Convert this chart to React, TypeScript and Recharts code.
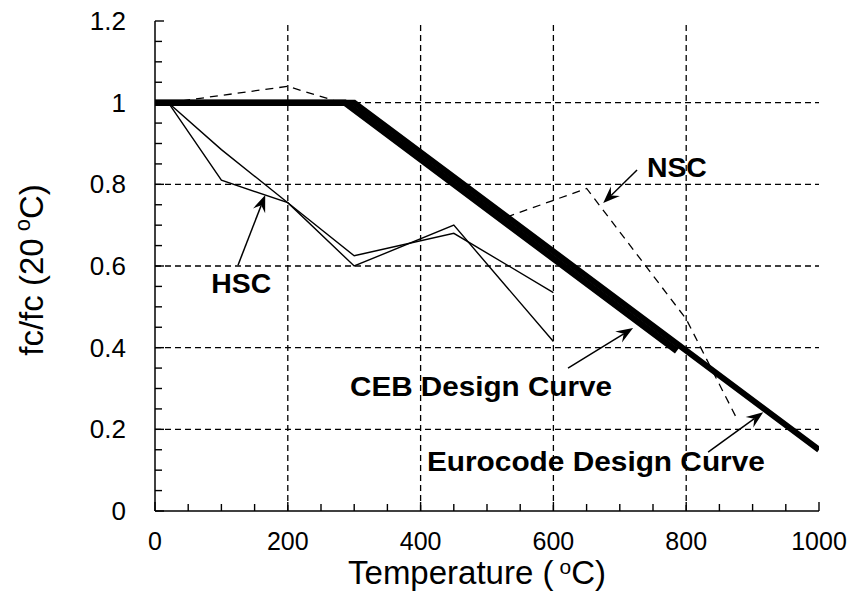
import React from "react"
import { LineChart, Line, XAxis, YAxis, ReferenceLine, ReferenceDot } from "recharts"

const FONT = '"Liberation Sans", Arial, Helvetica, sans-serif'

// HSC test results (two series)
const hscTemp = [20, 100, 200, 300, 450, 600]
const hscA = [1, 0.81, 0.755, 0.6, 0.7, 0.415]
const hscB = [1, 0.885, 0.755, 0.625, 0.68, 0.535]

// NSC test results
const nscTemp = [20, 200, 300, 530, 650, 800, 875]
const nscVal = [1, 1.04, 0.99, 0.72, 0.79, 0.47, 0.23]

// design curves
const cebTemp = [0, 286, 786]
const cebVal = [1, 1, 0.392]
const euroTemp = [0, 300, 1000]
const euroVal = [1, 1, 0.15]

// axes
const xTicks = [0, 50, 100, 150, 200, 250, 300, 350, 400, 450, 500, 550, 600, 650, 700, 750, 800, 850, 900, 950, 1000]
const yTicks = [0, 0.05, 0.1, 0.15, 0.2, 0.25, 0.3, 0.35, 0.4, 0.45, 0.5, 0.55, 0.6, 0.65, 0.7, 0.75, 0.8, 0.85, 0.9, 0.95, 1, 1.05, 1.1, 1.15, 1.2]
const xMajor = [0, 200, 400, 600, 800, 1000]
const yMajor = [0, 0.2, 0.4, 0.6, 0.8, 1, 1.2]
const xGrid = [200, 400, 600, 800]
const yGrid = [0.2, 0.4, 0.6, 0.8, 1]

// annotations: label centre, arrow tail -> arrow tip (data units)
const noteText = ["NSC", "HSC", "CEB Design Curve", "Eurocode Design Curve"]
const noteAt = [[786, 0.841], [130, 0.557], [491, 0.306], [664, 0.122]]
const arrowFrom = [[726, 0.835], [125, 0.602], [622, 0.35], [833, 0.144]]
const arrowTo = [[675, 0.754], [166, 0.774], [720, 0.448], [916, 0.242]]
const noteWidth = [60, 60, 262, 338]

const pts = (t: number[], v: number[]) => t.map((x, i) => ({ t: x, v: v[i] }))

const isMajor = (v: number, list: number[]) => list.some(m => Math.abs(m - v) < 1e-6)
const fmtY = (v: number) => (Math.abs(v) < 1e-6 ? "0" : Math.abs(v - 1) < 1e-6 ? "1" : v.toFixed(1))

const LeftTick = ({ x, y, payload }: any) => {
  const major = isMajor(payload.value, yMajor)
  return (
    <g>
      <line x1={x} y1={y} x2={x + (major ? 9 : 7)} y2={y} stroke="#000" strokeWidth={1.4} />
      {major && (
        <text x={x - 29} y={y + 9} textAnchor="end" fontSize={26} fontFamily={FONT} fill="#000">
          {fmtY(payload.value)}
        </text>
      )}
    </g>
  )
}

const RightTick = ({ x, y, payload }: any) => {
  const major = isMajor(payload.value, yMajor)
  return <line x1={x} y1={y} x2={x - (major ? 9 : 7)} y2={y} stroke="#000" strokeWidth={1.4} />
}

const BottomTick = ({ x, y, payload }: any) => {
  const major = isMajor(payload.value, xMajor)
  return (
    <g>
      <line x1={x} y1={y} x2={x} y2={y - (major ? 9 : 7)} stroke="#000" strokeWidth={1.4} />
      {major && (
        <text x={x} y={y + 39} textAnchor="middle" fontSize={25} fontFamily={FONT} fill="#000">
          {String(payload.value)}
        </text>
      )}
    </g>
  )
}

const TopTick = ({ x, y, payload }: any) => {
  const major = isMajor(payload.value, xMajor)
  return <line x1={x} y1={y} x2={x} y2={y + (major ? 9 : 7)} stroke="#000" strokeWidth={1.4} />
}

const XTitle = ({ viewBox }: any) => {
  const cx = viewBox.x + viewBox.width / 2 - 10
  return (
    <text x={cx} y={viewBox.y + 73} textAnchor="middle" fontSize={33} fontFamily={FONT} fill="#000">
      Temperature (
      <tspan dx={6} dy={-10} fontSize={21}>o</tspan>
      <tspan dy={10}>C)</tspan>
    </text>
  )
}

const YTitle = ({ viewBox }: any) => {
  const cy = viewBox.y + viewBox.height / 2 + 4
  return (
    <text x={43} y={cy} transform={`rotate(-90, 43, ${cy})`} textAnchor="middle" fontSize={33} fontFamily={FONT} fill="#000">
      fc/fc (20
      <tspan dx={7} dy={-13} fontSize={22}>o</tspan>
      <tspan dy={13}>C)</tspan>
    </text>
  )
}

const Arrow = (p: any) => {
  const { x1, y1, x2, y2 } = p
  const a = Math.atan2(y2 - y1, x2 - x1)
  const c = Math.cos(a)
  const s = Math.sin(a)
  const L = 17
  const W = 6.5
  const N = 11
  const lx = x2 - L * c - W * s
  const ly = y2 - L * s + W * c
  const rx = x2 - L * c + W * s
  const ry = y2 - L * s - W * c
  const nx = x2 - N * c
  const ny = y2 - N * s
  return (
    <g>
      <line x1={x1} y1={y1} x2={nx} y2={ny} stroke="#000" strokeWidth={1.5} />
      <polygon points={`${x2},${y2} ${lx},${ly} ${nx},${ny} ${rx},${ry}`} fill="#000" />
    </g>
  )
}

const makeNote = (i: number) => (p: any) => (
  <text
    x={p.cx}
    y={p.cy + 9.7}
    textAnchor="middle"
    fontSize={27}
    fontWeight="bold"
    fontFamily={FONT}
    fill="#000"
    textLength={noteWidth[i]}
    lengthAdjust="spacingAndGlyphs"
  >
    {noteText[i]}
  </text>
)

export default function App() {
  const axisLine = { stroke: "#000", strokeWidth: 1.5 }
  return (
    <div style={{ position: "absolute", left: 0, top: 0, width: 858, height: 600, background: "#fff" }}>
      <LineChart width={858} height={600} margin={{ top: 21, right: 39, bottom: 0, left: 0 }}>
        <XAxis
          xAxisId={0}
          dataKey="t"
          type="number"
          domain={[0, 1000]}
          ticks={xTicks}
          interval={0}
          tick={<BottomTick />}
          tickLine={false}
          tickSize={0}
          tickMargin={0}
          axisLine={axisLine}
          height={89}
          allowDataOverflow
          label={<XTitle />}
        />
        <XAxis
          xAxisId="top"
          orientation="top"
          type="number"
          domain={[0, 1000]}
          ticks={xTicks}
          interval={0}
          tick={<TopTick />}
          tickLine={false}
          tickSize={0}
          tickMargin={0}
          axisLine={axisLine}
          height={0}
          allowDataOverflow
        />
        <YAxis
          yAxisId={0}
          type="number"
          domain={[0, 1.2]}
          ticks={yTicks}
          interval={0}
          tick={<LeftTick />}
          tickLine={false}
          tickSize={0}
          tickMargin={0}
          axisLine={axisLine}
          width={155}
          allowDataOverflow
          label={<YTitle />}
        />
        <YAxis
          yAxisId="right"
          orientation="right"
          type="number"
          domain={[0, 1.2]}
          ticks={yTicks}
          interval={0}
          tick={<RightTick />}
          tickLine={false}
          tickSize={0}
          tickMargin={0}
          axisLine={axisLine}
          width={0}
          allowDataOverflow
        />

        {xGrid.map(v => (
          <ReferenceLine key={"gx" + v} x={v} stroke="#000" strokeWidth={1.3} strokeDasharray="6 4" />
        ))}
        {yGrid.map(v => (
          <ReferenceLine key={"gy" + v} y={v} stroke="#000" strokeWidth={1.3} strokeDasharray="6 4" />
        ))}

        <Line data={pts(nscTemp, nscVal)} dataKey="v" stroke="#000" strokeWidth={1.3} strokeDasharray="8 6" dot={false} isAnimationActive={false} />
        <Line data={pts(hscTemp, hscA)} dataKey="v" stroke="#000" strokeWidth={1.4} dot={false} isAnimationActive={false} />
        <Line data={pts(hscTemp, hscB)} dataKey="v" stroke="#000" strokeWidth={1.4} dot={false} isAnimationActive={false} />
        <Line data={pts(cebTemp, cebVal)} dataKey="v" stroke="#000" strokeWidth={6.5} dot={false} isAnimationActive={false} />
        <Line data={pts(euroTemp, euroVal)} dataKey="v" stroke="#000" strokeWidth={6} dot={false} isAnimationActive={false} />

        {noteText.map((_, i) => (
          <ReferenceLine
            key={"ar" + i}
            segment={[
              { x: arrowFrom[i][0], y: arrowFrom[i][1] },
              { x: arrowTo[i][0], y: arrowTo[i][1] },
            ]}
            stroke="#000"
            shape={Arrow}
          />
        ))}
        {noteText.map((_, i) => (
          <ReferenceDot key={"nt" + i} x={noteAt[i][0]} y={noteAt[i][1]} r={0} shape={makeNote(i)} />
        ))}
      </LineChart>
    </div>
  )
}
